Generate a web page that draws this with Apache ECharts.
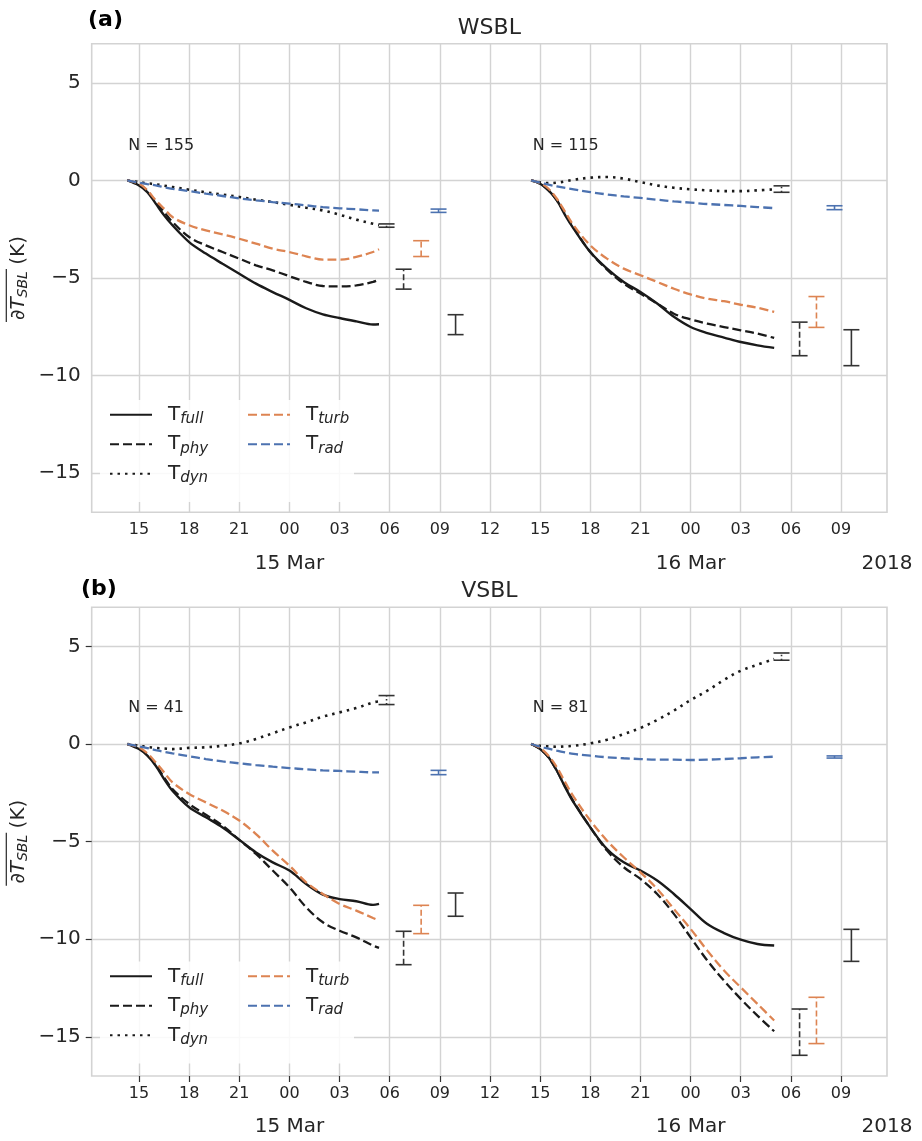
<!DOCTYPE html>
<html><head><meta charset="utf-8">
<script src="https://cdn.jsdelivr.net/npm/echarts/dist/echarts.min.js"></script>
<style>html,body{margin:0;padding:0;background:#fff}#c{width:922px;height:1141px}</style>
</head><body><div id="c"></div>
<script>
// ---------- data ----------
const hoursG1 = [14.3, 15, 15.5, 16, 16.5, 17, 18, 19, 20, 21, 22, 23, 24, 25, 26, 27, 28, 29, 29.36];
const hoursG2 = [38.46, 39, 39.5, 40, 40.5, 41, 42, 43, 44, 45, 46, 47, 48, 49, 50, 51, 52, 53];

// (a) WSBL, first composite (N = 155)
const aG1Full = [0, -0.26, -0.60, -1.19, -1.79, -2.30, -3.16, -3.75, -4.27, -4.78, -5.29, -5.72, -6.12, -6.55, -6.86, -7.05, -7.22, -7.38, -7.37];
const aG1Phy  = [0, -0.20, -0.55, -1.11, -1.62, -2.13, -2.90, -3.33, -3.67, -4.01, -4.35, -4.61, -4.91, -5.20, -5.41, -5.43, -5.38, -5.20, -5.09];
const aG1Dyn  = [0, -0.09, -0.15, -0.20, -0.27, -0.34, -0.48, -0.61, -0.73, -0.85, -0.99, -1.11, -1.25, -1.40, -1.54, -1.76, -2.01, -2.22, -2.30];
const aG1Turb = [0, -0.17, -0.51, -1.02, -1.45, -1.88, -2.30, -2.56, -2.76, -2.99, -3.24, -3.50, -3.67, -3.89, -4.06, -4.06, -3.92, -3.67, -3.53];
const aG1Rad  = [0, -0.12, -0.19, -0.26, -0.35, -0.43, -0.55, -0.68, -0.80, -0.92, -1.02, -1.11, -1.19, -1.28, -1.37, -1.43, -1.48, -1.54, -1.55];
// (a) WSBL, second composite (N = 115)
const aG2Full = [0, -0.17, -0.51, -1.02, -1.79, -2.47, -3.67, -4.52, -5.20, -5.72, -6.31, -6.99, -7.51, -7.82, -8.05, -8.28, -8.45, -8.58];
const aG2Phy  = [0, -0.17, -0.51, -1.02, -1.71, -2.42, -3.67, -4.57, -5.29, -5.80, -6.31, -6.83, -7.12, -7.34, -7.51, -7.68, -7.85, -8.07];
const aG2Dyn  = [0, -0.10, -0.14, -0.12, -0.05, 0.03, 0.14, 0.17, 0.09, -0.09, -0.26, -0.38, -0.46, -0.51, -0.55, -0.55, -0.51, -0.46];
const aG2Turb = [0, -0.14, -0.43, -0.94, -1.62, -2.30, -3.33, -4.01, -4.52, -4.86, -5.20, -5.55, -5.84, -6.06, -6.19, -6.37, -6.52, -6.74];
const aG2Rad  = [0, -0.12, -0.22, -0.31, -0.39, -0.46, -0.60, -0.72, -0.82, -0.90, -0.99, -1.08, -1.14, -1.21, -1.26, -1.31, -1.37, -1.42];
// (b) VSBL, first composite (N = 41)
const bG1Full = [0, -0.26, -0.60, -1.11, -1.79, -2.39, -3.24, -3.75, -4.27, -4.91, -5.55, -6.06, -6.48, -7.17, -7.71, -7.94, -8.05, -8.24, -8.19];
const bG1Phy  = [0, -0.20, -0.55, -1.06, -1.71, -2.30, -3.07, -3.62, -4.18, -4.91, -5.63, -6.48, -7.34, -8.36, -9.13, -9.56, -9.90, -10.32, -10.44];
const bG1Dyn  = [0, -0.09, -0.15, -0.20, -0.23, -0.26, -0.20, -0.17, -0.09, 0.03, 0.26, 0.55, 0.85, 1.11, 1.40, 1.62, 1.84, 2.13, 2.18];
const bG1Turb = [0, -0.17, -0.48, -0.94, -1.45, -1.96, -2.56, -2.99, -3.41, -3.92, -4.61, -5.46, -6.23, -7.08, -7.68, -8.19, -8.53, -8.91, -9.04];
const bG1Rad  = [0, -0.12, -0.21, -0.31, -0.40, -0.48, -0.63, -0.77, -0.89, -0.99, -1.08, -1.16, -1.23, -1.30, -1.35, -1.38, -1.42, -1.45, -1.45];
// (b) VSBL, second composite (N = 81)
const bG2Full = [0, -0.26, -0.68, -1.37, -2.22, -2.99, -4.27, -5.38, -6.06, -6.48, -6.99, -7.68, -8.45, -9.22, -9.68, -10.02, -10.24, -10.32];
const bG2Phy  = [0, -0.26, -0.68, -1.37, -2.18, -2.95, -4.27, -5.46, -6.31, -6.91, -7.68, -8.70, -9.90, -11.09, -12.12, -13.05, -13.91, -14.71];
const bG2Dyn  = [0, -0.09, -0.12, -0.14, -0.12, -0.09, 0.03, 0.22, 0.51, 0.82, 1.23, 1.71, 2.25, 2.73, 3.28, 3.75, 4.06, 4.35];
const bG2Turb = [0, -0.20, -0.60, -1.19, -1.96, -2.70, -3.92, -4.95, -5.80, -6.57, -7.42, -8.45, -9.47, -10.58, -11.60, -12.46, -13.31, -14.16];
const bG2Rad  = [0, -0.14, -0.24, -0.34, -0.43, -0.51, -0.60, -0.68, -0.73, -0.77, -0.80, -0.80, -0.82, -0.80, -0.77, -0.73, -0.68, -0.65];

// error bars: [hour, low, high]
const errHours = {dyn: [29.81, 53.44], phy: [30.83, 54.52], turb: [31.88, 55.53], rad: [32.92, 56.61], full: [33.94, 57.62]};
const aErrLow  = {dyn: [-2.40, -0.61], phy: [-5.57, -8.98], turb: [-3.90, -7.53], rad: [-1.64, -1.50], full: [-7.90, -9.49]};
const aErrHigh = {dyn: [-2.23, -0.28], phy: [-4.55, -7.26], turb: [-3.09, -5.95], rad: [-1.47, -1.30], full: [-6.88, -7.65]};
const bErrLow  = {dyn: [2.02, 4.29], phy: [-11.30, -15.94], turb: [-9.71, -15.34], rad: [-1.57, -0.72], full: [-8.82, -11.13]};
const bErrHigh = {dyn: [2.48, 4.66], phy: [-9.59, -13.57], turb: [-8.26, -12.97], rad: [-1.35, -0.61], full: [-7.63, -9.49]};

const xTicks = [15, 18, 21, 24, 27, 30, 33, 36, 39, 42, 45, 48, 51, 54, 57];
const yTicks = [-15, -10, -5, 0, 5];
const dateTickPos = [24, 48, 59.75];
const dateTickText = ['15 Mar', '16 Mar', '2018'];
const panelTitles = ['WSBL', 'VSBL'];
const panelLetters = ['(a)', '(b)'];
const nLabels = [['N = 155', 'N = 115'], ['N = 41', 'N = 81']];
const nLabelPos = [[[14.35, 1.75], [38.55, 1.75]], [[14.35, 1.83], [38.55, 1.83]]];
const comps = ['full', 'phy', 'dyn', 'turb', 'rad'];

// ---------- style ----------
const FONT = 'DejaVu Sans';
const TXT = '#262626';
const GRIDC = '#d3d3d3';
const color = {full: '#1a1a1a', phy: '#1a1a1a', dyn: '#1a1a1a', turb: '#dd8452', rad: '#4c72b0'};
const errColor = {full: '#333333', phy: '#333333', dyn: '#333333', turb: '#dd8452', rad: '#4c72b0'};
const dash = {full: 'solid', phy: [9, 4], dyn: [2.5, 5], turb: [9, 4], rad: [9, 4]};
const width = {full: 2.4, phy: 2.3, dyn: 2.6, turb: 2.3, rad: 2.3};
const errDash = {full: null, phy: [6, 3], dyn: [1.5, 2.5], turb: [6, 3], rad: null};

const grids = [
  {left: 91.7, top: 43.7, width: 795.3, height: 468.6},
  {left: 91.7, top: 607.3, width: 795.3, height: 468.7}
];

const panelData = [
  {g1: {full: aG1Full, phy: aG1Phy, dyn: aG1Dyn, turb: aG1Turb, rad: aG1Rad},
   g2: {full: aG2Full, phy: aG2Phy, dyn: aG2Dyn, turb: aG2Turb, rad: aG2Rad},
   lo: aErrLow, hi: aErrHigh},
  {g1: {full: bG1Full, phy: bG1Phy, dyn: bG1Dyn, turb: bG1Turb, rad: bG1Rad},
   g2: {full: bG2Full, phy: bG2Phy, dyn: bG2Dyn, turb: bG2Turb, rad: bG2Rad},
   lo: bErrLow, hi: bErrHigh}
];

function zip(xs, ys) { return xs.map((x, i) => [x, ys[i]]); }
function hh(v) { const h = ((v % 24) + 24) % 24; return (h < 10 ? '0' : '') + h; }

const xAxis = [], yAxis = [], series = [];
grids.forEach((g, p) => {
  const withTicks = p === 1;
  xAxis.push({
    gridIndex: p, type: 'value', min: 12.17, max: 59.75, position: 'bottom',
    axisLine: {show: false, onZero: false},
    axisTick: {show: withTicks, length: 6, customValues: xTicks, lineStyle: {color: '#333', width: 1.2}},
    axisLabel: {customValues: xTicks, formatter: hh, fontSize: 16, fontFamily: FONT, color: TXT, margin: 8, lineHeight: 20},
    splitLine: {show: true, lineStyle: {color: GRIDC, width: 1.4}}
  });
  yAxis.push({
    gridIndex: p, type: 'value', min: -17, max: 7, position: 'left',
    axisLine: {show: false, onZero: false},
    axisTick: {show: withTicks, length: 6, customValues: yTicks, lineStyle: {color: '#333', width: 1.2}},
    axisLabel: {customValues: yTicks, formatter: v => (v < 0 ? '\u2212' + Math.abs(v) : String(v)),
      fontSize: 20, fontFamily: FONT, color: TXT, margin: 11},
    splitLine: {show: true, lineStyle: {color: GRIDC, width: 1.4}}
  });
});
// secondary date axes
grids.forEach((g, p) => {
  xAxis.push({
    gridIndex: p, type: 'value', min: 12.17, max: 59.75, position: 'bottom', offset: 0,
    axisLine: {show: false, onZero: false}, axisTick: {show: false}, splitLine: {show: false},
    axisLabel: {customValues: dateTickPos, showMaxLabel: true,
      formatter: v => dateTickText[dateTickPos.indexOf(v)] || '',
      fontSize: 20, fontFamily: FONT, color: TXT, margin: 39, lineHeight: 24}
  });
});

function renderErr(c) {
  return function (params, api) {
    const x = api.value(0), lo = api.value(1), hi = api.value(2);
    const a = api.coord([x, lo]), b = api.coord([x, hi]);
    const hw = 8;
    const st = {stroke: errColor[c], lineWidth: 1.6};
    return {type: 'group', children: [
      {type: 'line', shape: {x1: a[0], y1: a[1], x2: b[0], y2: b[1]}, style: Object.assign({}, st, errDash[c] ? {lineDash: errDash[c]} : {})},
      {type: 'line', shape: {x1: a[0] - hw, y1: a[1], x2: a[0] + hw, y2: a[1]}, style: st},
      {type: 'line', shape: {x1: b[0] - hw, y1: b[1], x2: b[0] + hw, y2: b[1]}, style: st}
    ]};
  };
}

panelData.forEach((pd, p) => {
  comps.forEach(c => {
    [[hoursG1, pd.g1[c]], [hoursG2, pd.g2[c]]].forEach(([hs, vs]) => {
      series.push({
        type: 'line', name: c, xAxisIndex: p, yAxisIndex: p,
        data: zip(hs, vs), symbol: 'none', showSymbol: false, smooth: 0.35,
        lineStyle: {color: color[c], width: width[c], type: dash[c], cap: 'butt'},
        itemStyle: {color: color[c]},
        silent: true, z: 2
      });
    });
    series.push({
      type: 'custom', name: c + ' spread', xAxisIndex: p, yAxisIndex: p,
      data: errHours[c].map((x, i) => [x, pd.lo[c][i], pd.hi[c][i]]),
      encode: {x: 0, y: [1, 2]}, renderItem: renderErr(c), silent: true, z: 3
    });
  });
});

const legendRich = {
  t: {fontSize: 20, fontFamily: FONT, color: TXT, lineHeight: 24, verticalAlign: 'middle'},
  s: {fontSize: 15, fontFamily: FONT, fontStyle: 'italic', color: TXT, lineHeight: 14, verticalAlign: 'bottom'}
};
function mkLegend(left, top, names) {
  return {
    left: left, top: top, orient: 'vertical', padding: 0, itemGap: 7.5,
    itemWidth: 42, itemHeight: 14, selectedMode: false, data: names,
    itemStyle: {opacity: 0, borderWidth: 0},
    formatter: n => '{t|T}{s|' + n + '}',
    textStyle: {rich: legendRich, padding: [0, 0, 0, 11]}
  };
}
const legendTops = [404.7, 966.3];
const legend = [];
legendTops.forEach(t => {
  legend.push(mkLegend(109, t, ['full', 'phy', 'dyn']));
  legend.push(mkLegend(247, t, ['turb', 'rad']));
});

const title = [];
panelLetters.forEach((l, p) => {
  title.push({text: l, left: p === 0 ? 88 : 81, top: p === 0 ? 7 : 576, padding: 0,
    textStyle: {fontSize: 22, fontWeight: 'bold', fontFamily: FONT, color: '#000', lineHeight: 26}});
  title.push({text: panelTitles[p], left: 489.4, textAlign: 'center', top: p === 0 ? 15.3 : 578.5, padding: 0,
    textStyle: {fontSize: 22, fontWeight: 'normal', fontFamily: FONT, color: TXT, lineHeight: 26}});
});

const option = {
  backgroundColor: '#ffffff',
  animation: false,
  grid: grids.map(g => Object.assign({show: true, borderColor: GRIDC, borderWidth: 1.6, backgroundColor: 'transparent'}, g)),
  xAxis: xAxis, yAxis: yAxis, series: series, legend: legend, title: title
};

const chart = echarts.init(document.getElementById('c'), null, {renderer: 'canvas'});
chart.setOption(option);

// annotations positioned through the axes
const graphic = [];
grids.forEach((g, p) => {
  graphic.push({type: 'rect', z: 3, shape: {x: 100, y: legendTops[p] - 4.7, width: 254, height: 102, r: 4},
    style: {fill: 'rgba(255,255,255,0.85)'}, silent: true});
  nLabels[p].forEach((txt, k) => {
    const pt = chart.convertToPixel({xAxisIndex: p, yAxisIndex: p}, nLabelPos[p][k]);
    graphic.push({type: 'text', x: pt[0], y: pt[1], z: 5,
      style: {text: txt, fontSize: 16, fontFamily: FONT, fill: TXT, align: 'left', verticalAlign: 'middle'}});
  });
  const cy = g.top + g.height / 2, cx = 18.5;
  graphic.push({type: 'text', x: cx, y: cy, rotation: Math.PI / 2, z: 5,
    style: {text: '{m|\u2202T}{s|SBL}{n| (K)}', align: 'center', verticalAlign: 'middle',
      rich: {
        m: {fontSize: 20, fontFamily: FONT, fontStyle: 'italic', fill: TXT, lineHeight: 24, verticalAlign: 'middle'},
        s: {fontSize: 14, fontFamily: FONT, fontStyle: 'italic', fill: TXT, lineHeight: 13, verticalAlign: 'bottom'},
        n: {fontSize: 20, fontFamily: FONT, fill: TXT, lineHeight: 24, verticalAlign: 'middle'}
      }}});
  graphic.push({type: 'line', z: 5, shape: {x1: 6.3, y1: cy + 44, x2: 6.3, y2: cy - 9},
    style: {stroke: TXT, lineWidth: 1.2}, silent: true});
});
chart.setOption({graphic: graphic});
</script>
</body></html>
